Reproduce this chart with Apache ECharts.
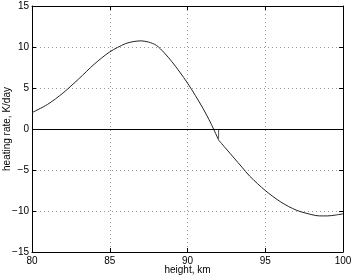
<!DOCTYPE html>
<html>
<head>
<meta charset="utf-8">
<script src="https://cdn.jsdelivr.net/npm/echarts@6/dist/echarts.min.js"></script>
<style>
  html, body { margin: 0; padding: 0; background: #fff; }
  #chart { width: 351px; height: 276px; }
</style>
</head>
<body>
<div id="chart"></div>
<script>
// heating rate profile, split at the kink near 92 km
const heightUpper = [80, 81, 82, 83, 84, 85, 86, 86.5, 87, 87.5, 88, 88.5, 89, 89.5, 90, 90.5, 91, 91.5, 92]
const rateUpper = [2.0, 3.0, 4.4, 6.1, 7.9, 9.4, 10.4, 10.65, 10.75, 10.6, 10.2, 9.3, 8.2, 6.95, 5.6, 4.1, 2.5, 0.7, -1.35]
const heightLower = [92, 92.5, 93, 93.5, 94, 95, 96, 97, 98, 98.5, 99, 99.5, 100]
const rateLower = [-1.35, -2.45, -3.55, -4.65, -5.75, -7.5, -8.9, -9.9, -10.45, -10.6, -10.6, -10.5, -10.35]
const markerX = [92, 92]
const markerY = [0, -1.2]

const zip = (xs, ys) => xs.map((x, i) => [x, ys[i]])
const minus = (v) => String(v).replace('-', '\u2212')

const chart = echarts.init(document.getElementById('chart'))
const font = 'Liberation Sans'
const axisCommon = {
  type: 'value',
  axisLine: { show: true, onZero: false, lineStyle: { color: '#000', width: 1 } },
  axisTick: { show: true, inside: true, length: 4, lineStyle: { color: '#000' } },
}

chart.setOption({
  animation: false,
  grid: { left: 32, right: 8, top: 6, bottom: 24, containLabel: false, outerBoundsMode: 'none' },
  xAxis: [
    {
      ...axisCommon,
      min: 80, max: 100, interval: 5,
      axisLabel: { color: '#000', fontFamily: font, fontSize: 10, margin: 4 },
      splitLine: { show: true, lineStyle: { color: '#999', type: [1, 3] } },
      name: 'height, km',
      nameLocation: 'middle',
      nameGap: 13,
      nameMoveOverlap: false,
      nameTextStyle: { color: '#000', fontFamily: font, fontSize: 10 },
    },
    {
      ...axisCommon,
      position: 'top',
      min: 80, max: 100, interval: 5,
      axisLabel: { show: false },
      splitLine: { show: false },
    },
  ],
  yAxis: [
    {
      ...axisCommon,
      min: -15, max: 15, interval: 5,
      axisLabel: { color: '#000', fontFamily: font, fontSize: 10, margin: 3, formatter: minus },
      splitLine: { show: true, lineStyle: { color: '#999', type: [1, 3] } },
      name: 'heating rate, K/day',
      nameLocation: 'middle',
      nameGap: 20,
      nameMoveOverlap: false,
      nameTextStyle: { color: '#000', fontFamily: font, fontSize: 10 },
    },
    {
      ...axisCommon,
      position: 'right',
      min: -15, max: 15, interval: 5,
      axisLabel: { show: false },
      splitLine: { show: false },
    },
  ],
  series: [
    {
      type: 'line',
      data: zip(heightUpper, rateUpper),
      smooth: 0.3,
      symbol: 'none',
      lineStyle: { color: '#222', width: 1 },
      markLine: {
        silent: true,
        symbol: 'none',
        label: { show: false },
        lineStyle: { color: '#000', width: 1, type: 'solid' },
        data: [{ yAxis: 0 }],
      },
    },
    {
      type: 'line',
      data: zip(heightLower, rateLower),
      smooth: 0.3,
      symbol: 'none',
      lineStyle: { color: '#222', width: 1 },
    },
    {
      type: 'line',
      data: zip(markerX, markerY),
      symbol: 'none',
      lineStyle: { color: '#555', width: 1 },
    },
  ],
})
</script>
</body>
</html>
